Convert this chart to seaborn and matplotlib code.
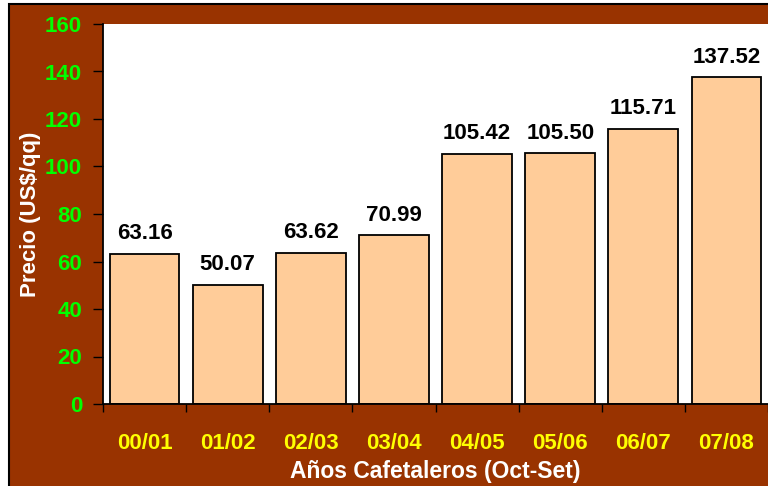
import numpy as np
import pandas as pd
import matplotlib
matplotlib.use('Agg')
import matplotlib.pyplot as plt
from matplotlib.patches import Rectangle
import seaborn as sns

# datos
temporadas = ['00/01', '01/02', '02/03', '03/04', '04/05', '05/06', '06/07', '07/08']
precios = [63.16, 50.07, 63.62, 70.99, 105.42, 105.50, 115.71, 137.52]
y_ticks = [0, 20, 40, 60, 80, 100, 120, 140, 160]

df = pd.DataFrame({'temporada': temporadas, 'precio': precios})

sns.set_theme(style='white')
plt.rcParams['font.family'] = ['Liberation Sans', 'DejaVu Sans']
plt.rcParams['font.weight'] = 'bold'

cafe = '#993300'

fig = plt.figure(figsize=(7.68, 4.86), dpi=100, facecolor='white')
# fondo marrón con borde negro
fig.patches.append(Rectangle((8.5 / 768, -0.05), 1.0, 1.05 - 4.5 / 486,
                             transform=fig.transFigure, facecolor=cafe,
                             edgecolor='black', linewidth=1.5, zorder=-10))

ax = fig.add_axes([103 / 768, 1 - 404 / 486, 1 - 103 / 768, (404 - 24) / 486])
ax.set_facecolor('white')

sns.barplot(data=df, x='temporada', y='precio', color='#FFCC99', saturation=1,
            edgecolor='black', linewidth=1.3, width=0.84, ax=ax)

ax.set_ylim(0, 160)
ax.set_xlim(-0.5, 7.5)
ax.set_yticks(y_ticks)
ax.set_yticklabels([str(v) for v in y_ticks], color='#00FF00',
                   fontsize=16, fontweight='bold')
ax.set_xticks(range(len(temporadas)))
ax.set_xticklabels(temporadas, color='#FFFF00', fontsize=16, fontweight='bold')
ax.set_xticks(np.arange(-0.5, 8, 1), minor=True)

ax.tick_params(axis='x', which='major', length=0, pad=21)
ax.tick_params(axis='x', which='minor', length=6, width=1, color='black', direction='out', bottom=True)
ax.tick_params(axis='y', length=7, width=1, color='black', direction='out', pad=8, left=True)

for s in ['top', 'right']:
    ax.spines[s].set_visible(False)
for s in ['left', 'bottom']:
    ax.spines[s].set_color('black')
    ax.spines[s].set_linewidth(1.3)

ax.bar_label(ax.containers[0], fmt='%.2f', padding=7, fontsize=16,
             fontweight='bold', color='black')

ax.set_xlabel('Años Cafetaleros (Oct-Set)', color='white', fontsize=16.5,
              fontweight='bold', labelpad=4)
ax.set_ylabel('Precio (US$/qq)', color='white', fontsize=16,
              fontweight='bold', labelpad=3)

fig.savefig('out.png', dpi=100, facecolor=fig.get_facecolor())
